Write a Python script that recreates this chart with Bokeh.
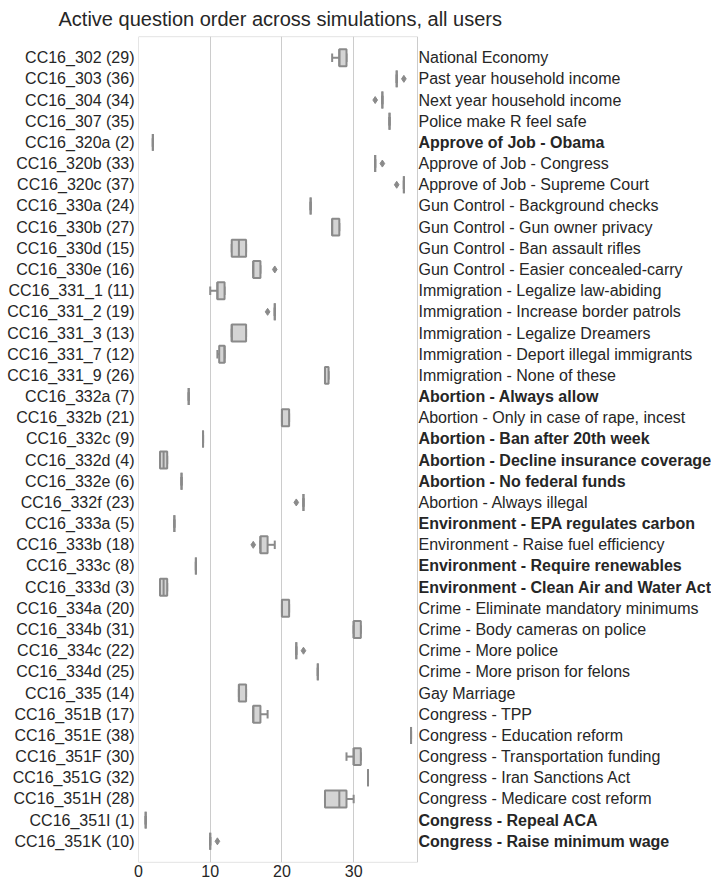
from bokeh.plotting import figure
from bokeh.models import ColumnDataSource, FactorRange, Range1d, FixedTicker
from bokeh.core.properties import value
from bokeh.embed import file_html
from bokeh.resources import INLINE

# ---- data ----
questions = ["CC16_302", "CC16_303", "CC16_304", "CC16_307", "CC16_320a", "CC16_320b",
             "CC16_320c", "CC16_330a", "CC16_330b", "CC16_330d", "CC16_330e", "CC16_331_1",
             "CC16_331_2", "CC16_331_3", "CC16_331_7", "CC16_331_9", "CC16_332a", "CC16_332b",
             "CC16_332c", "CC16_332d", "CC16_332e", "CC16_332f", "CC16_333a", "CC16_333b",
             "CC16_333c", "CC16_333d", "CC16_334a", "CC16_334b", "CC16_334c", "CC16_334d",
             "CC16_335", "CC16_351B", "CC16_351E", "CC16_351F", "CC16_351G", "CC16_351H",
             "CC16_351I", "CC16_351K"]
base_order = [29, 36, 34, 35, 2, 33, 37, 24, 27, 15, 16, 11, 19, 13, 12, 26, 7, 21, 9, 4,
              6, 23, 5, 18, 8, 3, 20, 31, 22, 25, 14, 17, 38, 30, 32, 28, 1, 10]
descriptions = ["National Economy", "Past year household income", "Next year household income",
                "Police make R feel safe", "Approve of Job - Obama", "Approve of Job - Congress",
                "Approve of Job - Supreme Court", "Gun Control - Background checks",
                "Gun Control - Gun owner privacy", "Gun Control - Ban assault rifles",
                "Gun Control - Easier concealed-carry", "Immigration - Legalize law-abiding",
                "Immigration - Increase border patrols", "Immigration - Legalize Dreamers",
                "Immigration - Deport illegal immigrants", "Immigration - None of these",
                "Abortion - Always allow", "Abortion - Only in case of rape, incest",
                "Abortion - Ban after 20th week", "Abortion - Decline insurance coverage",
                "Abortion - No federal funds", "Abortion - Always illegal",
                "Environment - EPA regulates carbon", "Environment - Raise fuel efficiency",
                "Environment - Require renewables", "Environment - Clean Air and Water Act",
                "Crime - Eliminate mandatory minimums", "Crime - Body cameras on police",
                "Crime - More police", "Crime - More prison for felons", "Gay Marriage",
                "Congress - TPP", "Congress - Education reform", "Congress - Transportation funding",
                "Congress - Iran Sanctions Act", "Congress - Medicare cost reform",
                "Congress - Repeal ACA", "Congress - Raise minimum wage"]
bold = [0, 0, 0, 0, 1, 0, 0, 0, 0, 0, 0, 0, 0, 0, 0, 0, 1, 0, 1, 1,
        1, 0, 1, 0, 1, 1, 0, 0, 0, 0, 0, 0, 0, 0, 0, 0, 1, 1]

q1 =      [28, 36, 34, 35, 2, 33, 37, 24, 27, 13, 16, 11, 19, 13, 11.25, 26, 7, 20, 9, 3,
           6, 23, 5, 17, 8, 3, 20, 30, 22, 25, 14, 16, 38, 30, 32, 26, 1, 10]
median =  [28, 36, 34, 35, 2, 33, 37, 24, 27, 14, 16, 11, 19, 13, 12, 26, 7, 20, 9, 3.5,
           6, 23, 5, 17, 8, 3.5, 20, 30, 22, 25, 14, 16, 38, 30, 32, 28, 1, 10]
q3 =      [29, 36, 34, 35, 2, 33, 37, 24, 28, 15, 17, 12, 19, 15, 12, 26.5, 7, 21, 9, 4,
           6, 23, 5, 18, 8, 4, 21, 31, 22, 25, 15, 17, 38, 31, 32, 29, 1, 10]
whisk_lo = [27, 36, 34, 35, 2, 33, 37, 24, 27, 13, 16, 10, 19, 13, 11, 26, 7, 20, 9, 3,
            6, 23, 5, 17, 8, 3, 20, 30, 22, 25, 14, 16, 38, 29, 32, 26, 1, 10]
whisk_hi = [29, 36, 34, 35, 2, 33, 37, 24, 28, 15, 17, 12, 19, 15, 12, 26.5, 7, 21, 9, 4,
            6, 23, 5, 19, 8, 4, 21, 31, 22, 25, 15, 18, 38, 31, 32, 30, 1, 10]
outliers = [[], [37], [33], [], [], [34], [36], [], [], [], [19], [], [18], [], [], [], [], [], [], [],
            [], [22], [], [16], [], [], [], [], [23], [], [], [], [], [], [], [], [], [11]]
x_ticks = [0, 10, 20, 30]

# ---- build ----
labels = [f"{q} ({o})" for q, o in zip(questions, base_order)]
TEXT = "#262626"
EDGE = "#8a8a8a"
FILL = "#d4d4d4"
X_END = 38.9            # right edge of the box-plot panel (data units)
FONT = "Liberation Sans"
W, H = 711, 884
LEFT = 138
PANEL_PX = 279          # pixel width of the box-plot panel
x_max = X_END * (W - LEFT) / PANEL_PX

yr = FactorRange(factors=labels[::-1], range_padding=0.5, range_padding_units="absolute")

p = figure(width=W, height=H, output_backend="svg", toolbar_location=None,
           y_range=yr, x_range=Range1d(0, x_max),
           min_border_left=LEFT, min_border_right=0, min_border_top=36,
           min_border_bottom=22)

p.title.text = "Active question order across simulations, all users"
p.title.text_font = FONT
p.title.text_font_size = "20px"
p.title.text_font_style = "normal"
p.title.text_color = TEXT
p.title.align = "left"
p.title.offset = -80
p.title.standoff = 11
p.title.vertical_align = "middle"

src = ColumnDataSource(dict(
    y=labels, q1=q1, med=median, q3=q3, lo=whisk_lo, hi=whisk_hi,
    cap0=[(l, -0.2) for l in labels], cap1=[(l, 0.2) for l in labels],
    box0=[(l, -0.4) for l in labels], box1=[(l, 0.4) for l in labels]))

# panel outline (spans the whole padded category range)
p.quad(left=[0], right=[X_END], top=[(labels[0], 0.995)], bottom=[(labels[-1], -0.995)],
       fill_alpha=0, line_color="#cccccc", line_width=1)

# whiskers
p.segment(x0="lo", x1="q1", y0="y", y1="y", source=src, line_color=EDGE, line_width=2)
p.segment(x0="q3", x1="hi", y0="y", y1="y", source=src, line_color=EDGE, line_width=2)
# caps
p.segment(x0="lo", x1="lo", y0="cap0", y1="cap1", source=src, line_color=EDGE, line_width=2)
p.segment(x0="hi", x1="hi", y0="cap0", y1="cap1", source=src, line_color=EDGE, line_width=2)
# boxes
p.hbar(y="y", left="q1", right="q3", height=0.8, source=src, fill_color=FILL,
       line_color=EDGE, line_width=2)
# medians
p.segment(x0="med", x1="med", y0="box0", y1="box1", source=src, line_color=EDGE, line_width=2)

# outliers
ox, oy = [], []
for lab, outs in zip(labels, outliers):
    for v in outs:
        ox.append(v)
        oy.append(lab)
p.scatter(x=ox, y=oy, marker="diamond", size=7, fill_color=EDGE, line_color=EDGE)

# right-hand descriptions
dsrc = ColumnDataSource(dict(x=[X_END] * len(labels), y=labels, text=descriptions,
                             style=["bold" if b else "normal" for b in bold]))
p.text(x="x", y="y", text="text", source=dsrc, x_offset=1,
       text_font=value(FONT), text_font_size="16px", text_font_style="style",
       text_color=TEXT, text_baseline="middle", text_align="left")

# axes styling
p.xaxis.ticker = FixedTicker(ticks=x_ticks)
for ax in (p.xaxis[0], p.yaxis[0]):
    ax.axis_line_color = None
    ax.major_tick_line_color = None
    ax.minor_tick_line_color = None
    ax.major_label_text_font = FONT
    ax.major_label_text_font_size = "16px"
    ax.major_label_text_color = TEXT
    ax.major_tick_out = 0
    ax.major_tick_in = 0
p.yaxis.major_label_standoff = 4
p.xaxis.major_label_standoff = 2

p.xgrid.grid_line_color = "#cccccc"
p.xgrid.grid_line_width = 1
p.ygrid.grid_line_color = None
p.outline_line_color = None

open("out.html", "w").write(file_html(p, INLINE))
